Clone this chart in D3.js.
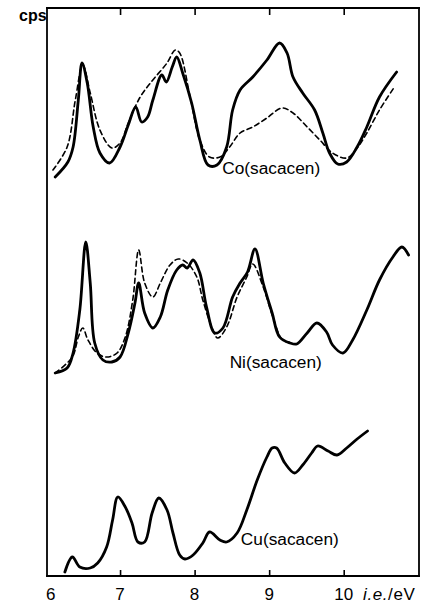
<!DOCTYPE html>
<html><head><meta charset="utf-8">
<script src="https://cdn.jsdelivr.net/npm/d3@7"></script>
<style>html,body{margin:0;padding:0;background:#fff;overflow:hidden}svg{display:block}</style>
</head><body>
<svg id="c" width="423" height="604" viewBox="0 0 423 604"></svg>
<script>
// ---- data (x: ionization energy / eV, y: cps, arbitrary stacked units) ----
const coSolidX = [6.13,6.30,6.37,6.44,6.49,6.56,6.64,6.73,6.86,7.00,7.11,7.21,7.29,7.37,7.44,7.56,7.62,7.70,7.76,7.84,7.96,8.07,8.18,8.30,8.43,8.51,8.61,8.78,8.97,9.14,9.24,9.32,9.45,9.61,9.72,9.81,9.92,10.04,10.18,10.31,10.48,10.71];
const coSolidY = [399,414,429,476,513,493,449,423,413,429,451,469,454,459,476,501,494,509,519,503,473,436,411,411,429,466,486,499,516,533,523,499,483,466,443,423,412,414,429,449,479,504];
const coDashX = [6.10,6.29,6.40,6.50,6.60,6.73,6.89,7.00,7.11,7.27,7.44,7.63,7.74,7.80,7.94,8.07,8.20,8.34,8.47,8.61,8.78,8.97,9.17,9.32,9.51,9.68,9.85,10.04,10.18,10.31,10.48,10.68];
const coDashY = [406,429,476,511,483,446,428,433,453,479,496,513,526,523,479,436,419,419,429,443,449,458,468,463,449,436,423,418,428,443,466,489];
const niSolidX = [6.13,6.29,6.37,6.46,6.54,6.60,6.66,6.77,6.89,7.00,7.11,7.20,7.25,7.33,7.44,7.54,7.64,7.76,7.84,7.90,7.98,8.07,8.16,8.27,8.38,8.51,8.61,8.71,8.81,8.92,9.04,9.14,9.28,9.37,9.51,9.64,9.77,9.85,9.99,10.12,10.31,10.48,10.66,10.78,10.87];
const niSolidY = [203,208,223,266,334,293,233,216,214,219,243,273,293,263,248,259,286,306,311,308,316,303,269,243,248,279,293,304,327,293,263,239,233,232,243,253,244,231,223,236,266,296,319,329,321];
const niDashX = [6.13,6.36,6.44,6.50,6.57,6.69,6.82,6.96,7.07,7.17,7.25,7.33,7.44,7.54,7.67,7.78,7.90,8.03,8.11,8.23,8.31,8.43,8.57,8.70,8.78,8.92,9.05,9.18,9.32];
const niDashY = [203,219,239,248,236,223,219,223,239,276,326,293,279,293,311,317,313,299,276,249,238,249,279,299,312,289,259,236,233];
const cuX = [6.26,6.36,6.46,6.60,6.70,6.82,6.90,6.97,7.07,7.16,7.24,7.33,7.43,7.52,7.63,7.71,7.80,7.87,7.98,8.11,8.20,8.34,8.43,8.57,8.70,8.84,8.97,9.04,9.10,9.21,9.34,9.45,9.57,9.65,9.79,9.91,10.04,10.18,10.32];
const cuY = [4,19,9,8,13,29,56,79,69,53,34,34,63,78,66,43,21,17,21,33,44,36,34,43,66,96,119,128,128,113,103,111,123,130,125,121,128,137,145];
const xTicks = [7,8,9,10];
const xTickLabels = ["6","7","8","9","10"];
const xTickLabelValues = [6.07,7,8,9,10];
const seriesNames = ["Co(sacacen)","Ni(sacacen)","Cu(sacacen)"];
const labelX = [8.37,8.47,8.62];
const labelY = [402,208,31];

// ---- layout ----
const L = 47, R = 419, T = 8, B = 576;
const x = d3.scaleLinear().domain([6.02, 11.01]).range([L, R]);
const y = d3.scaleLinear().domain([0, 568]).range([B, T]);
const svg = d3.select("#c");
const font = "'Liberation Sans', Arial, sans-serif";

// frame
const frame = svg.append("g").attr("stroke", "#000").attr("stroke-width", 1.8).attr("stroke-linecap", "square");
frame.append("line").attr("x1", x.range()[0]).attr("x2", x.range()[1]).attr("y1", y.range()[1]).attr("y2", y.range()[1]);
frame.append("line").attr("x1", x.range()[0]).attr("x2", x.range()[1]).attr("y1", y.range()[0]).attr("y2", y.range()[0]);
frame.append("line").attr("x1", x.range()[0]).attr("x2", x.range()[0]).attr("y1", y.range()[1]).attr("y2", y.range()[0]);
frame.append("line").attr("x1", x.range()[1]).attr("x2", x.range()[1]).attr("y1", y.range()[1]).attr("y2", y.range()[0]);

// ticks (inward)
const gB = svg.append("g").attr("transform", `translate(0,${B})`)
  .call(d3.axisBottom(x).tickValues(xTicks).tickSize(-6).tickFormat(""));
gB.select(".domain").remove();
gB.selectAll("line").attr("stroke", "#000").attr("stroke-width", 1.6);
const gT = svg.append("g").attr("transform", `translate(0,${T})`)
  .call(d3.axisTop(x).tickValues(xTicks).tickSize(-7).tickFormat(""));
gT.select(".domain").remove();
gT.selectAll("line").attr("stroke", "#000").attr("stroke-width", 1.6);

svg.append("g").selectAll("text").data(xTickLabels).join("text")
  .attr("x", (d, i) => x(xTickLabelValues[i])).attr("y", 600)
  .attr("text-anchor", "middle").attr("font-family", font).attr("font-size", 17)
  .text(d => d);

const ax = svg.append("text").attr("x", 363).attr("y", 600)
  .attr("font-family", font).attr("font-size", 17).attr("letter-spacing", 0.6);
ax.append("tspan").attr("font-style", "italic").text("i.e.");
ax.append("tspan").text("/eV");

svg.append("text").attr("x", 19).attr("y", 21).attr("font-family", font)
  .attr("font-size", 16).attr("font-weight", "bold").text("cps");

const line = d3.line().x(d => x(d[0])).y(d => y(d[1])).curve(d3.curveCatmullRom.alpha(0.5));
function draw(xs, ys, dashed) {
  svg.append("path").datum(xs.map((v, i) => [v, ys[i]])).attr("d", line)
    .attr("fill", "none").attr("stroke", "#000")
    .attr("stroke-width", dashed ? 1.6 : 2.8)
    .attr("stroke-dasharray", dashed ? "5,3.5" : null)
    .attr("stroke-linejoin", "round").attr("stroke-linecap", "round");
}
draw(coDashX, coDashY, true);
draw(coSolidX, coSolidY, false);
draw(niDashX, niDashY, true);
draw(niSolidX, niSolidY, false);
draw(cuX, cuY, false);

svg.append("g").selectAll("text").data(seriesNames).join("text")
  .attr("x", (d, i) => x(labelX[i])).attr("y", (d, i) => y(labelY[i]))
  .attr("font-family", font).attr("font-size", 17.3).text(d => d);
</script>
</body></html>
